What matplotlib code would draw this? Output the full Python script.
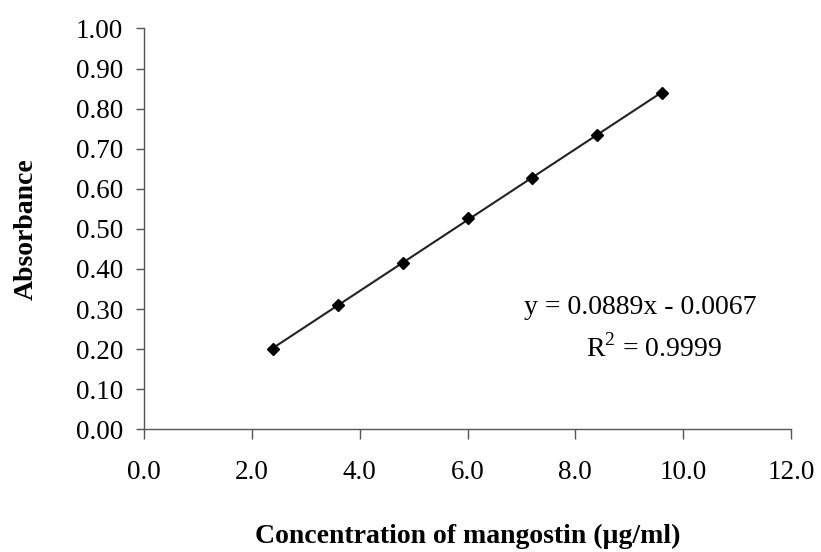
"""
Calibration curve of mangostin (absorbance vs concentration)
"""
import matplotlib
matplotlib.use("Agg")
import matplotlib.pyplot as plt
import numpy as np

# Data
conc = [2.4, 3.6, 4.8, 6.0, 7.2, 8.4, 9.6]
absorb = [0.200, 0.311, 0.416, 0.527, 0.628, 0.733, 0.839]

x_ticks = [0, 2, 4, 6, 8, 10, 12]
x_ticklabels = ["0.0", "2.0", "4.0", "6.0", "8.0", "10.0", "12.0"]
y_ticks = [0.0, 0.1, 0.2, 0.3, 0.4, 0.5, 0.6, 0.7, 0.8, 0.9, 1.0]
y_ticklabels = ["0.00", "0.10", "0.20", "0.30", "0.40", "0.50",
                "0.60", "0.70", "0.80", "0.90", "1.00"]

eq_text = "y = 0.0889x - 0.0067"
r2_text = "R$^{2}$ = 0.9999"

plt.rcParams['font.family'] = ['Liberation Serif', 'DejaVu Serif']
plt.rcParams['mathtext.fontset'] = 'custom'
plt.rcParams['mathtext.rm'] = 'Liberation Serif'

fig = plt.figure(figsize=(8.21, 5.52), dpi=100)
ax = fig.add_axes([0.1754, 0.2223, 0.9635 - 0.1754, 0.9484 - 0.2223])

# linear trendline over the measured range
coef = np.polyfit(conc, absorb, 1)
xs = np.array([conc[0], conc[-1]])
ax.plot(xs, np.polyval(coef, xs), color='#222222', lw=1.5, zorder=2)
ax.plot(conc, absorb, linestyle='none', marker='D', ms=6.5,
        color='black', zorder=3)

ax.set_xlim(0, 12)
ax.set_ylim(0, 1.0)
ax.set_xticks(x_ticks)
ax.set_xticklabels(x_ticklabels)
ax.set_yticks(y_ticks)
ax.set_yticklabels(y_ticklabels)

for side in ['top', 'right']:
    ax.spines[side].set_visible(False)
for side in ['left', 'bottom']:
    ax.spines[side].set_color('#555555')
    ax.spines[side].set_linewidth(1.0)

ax.tick_params(axis='x', direction='out', length=7, width=1.0,
               color='#555555', pad=15, labelsize=19.5)
ax.tick_params(axis='y', direction='out', length=6, width=1.0,
               color='#555555', pad=9, labelsize=19.5)

ax.set_xlabel("Concentration of mangostin (\u00b5g/ml)", fontsize=20,
              fontweight='bold', labelpad=28)
ax.set_ylabel("Absorbance", fontsize=20, fontweight='bold', labelpad=27)

ax.text(0.767, 0.305, eq_text, transform=ax.transAxes, fontsize=20,
        ha='center', va='center')
ax.text(0.788, 0.203, r2_text, transform=ax.transAxes, fontsize=20,
        ha='center', va='center')

fig.savefig('out.png', dpi=100)
